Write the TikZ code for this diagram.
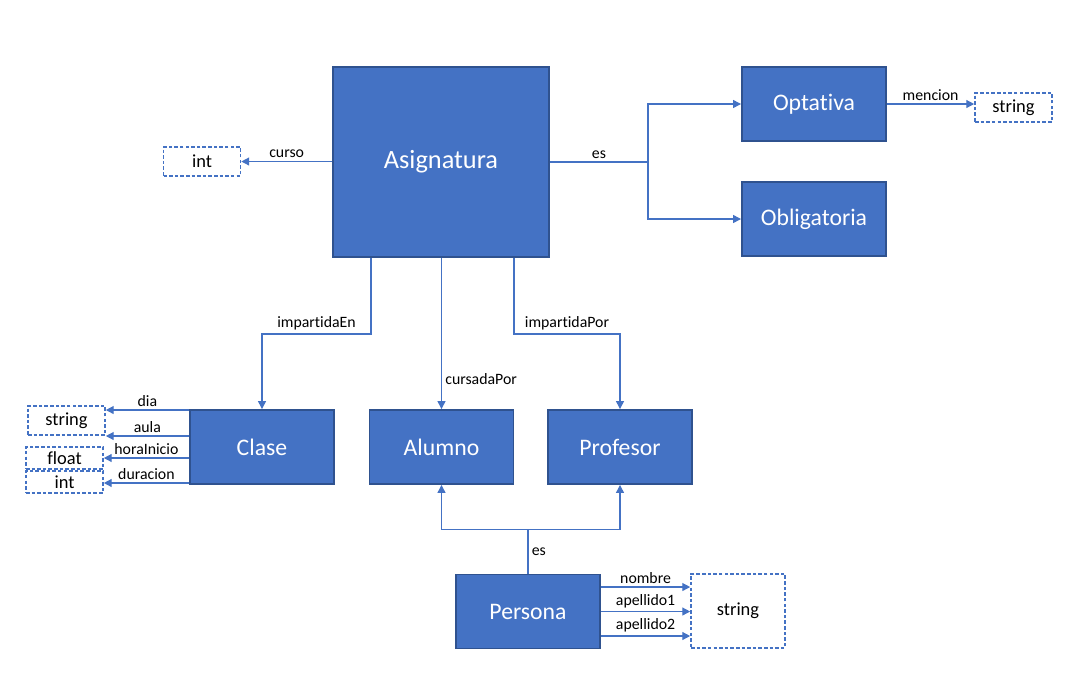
\documentclass[tikz,border=0pt]{standalone}
\usepackage{fontspec}
\setmainfont{Carlito}[Ligatures=NoCommon]
\usepackage{xcolor}
\usetikzlibrary{arrows.meta,positioning}
\definecolor{azul}{HTML}{4472C4}
\definecolor{azulosc}{HTML}{2F528F}

\begin{document}
\begin{tikzpicture}
  [x=0.02cm,y=-0.02cm,
   entidad/.style={rectangle,draw=azulosc,fill=azul,line width=1.1pt,text=white,font=\fontsize{13.5}{16}\selectfont,minimum width=2.88cm,minimum height=1.48cm,inner sep=0pt},
   tipo/.style={rectangle,draw=azul,dash pattern=on 2pt off 1.2pt,line width=0.9pt,fill=white,font=\fontsize{10.5}{12}\selectfont,minimum width=1.54cm,minimum height=0.58cm,inner sep=0pt},
   rel/.style={draw=azul,line width=0.75pt,-{Triangle[length=4.5pt,width=4.5pt]}},
   etiq/.style={font=\fontsize{9}{11}\selectfont,inner sep=1.8pt}]
\useasboundingbox (0,0) rectangle (1086,698);
% entidades
\node[entidad,minimum width=4.32cm,minimum height=3.8cm,font=\fontsize{15}{18}\selectfont] (asig) at (441,162) {Asignatura};
\node[entidad] (opt) at (814,104) {Optativa};
\node[entidad] (obl) at (814,219) {Obligatoria};
\node[entidad] (clase) at (262,447) {Clase};
\node[entidad] (alum) at (441.5,447) {Alumno};
\node[entidad] (prof) at (620,447) {Profesor};
\node[entidad] (pers) at (528,611.5) {Persona};
% tipos
\node[tipo] (intA) at (202,161.5) {int};
\node[tipo] (strO) at (1013.5,107.5) {string};
\node[tipo] (strC) at (66.5,420.5) {string};
\node[tipo,minimum height=0.44cm] (floC) at (64.5,458) {float};
\node[tipo,minimum height=0.44cm] (intC) at (64.5,482) {int};
\node[tipo,minimum width=1.88cm,minimum height=1.48cm] (strP) at (738,611) {string};
% relaciones
\draw[rel] (asig.west |- intA) -- node[etiq,above]{curso} (intA.east);
\draw[rel] (asig.east) -- node[etiq,above]{es} ++(98,0) |- (opt.west);
\draw[rel] (asig.east) ++(98,0) |- (obl.west);
\draw[rel] (opt.east) -- node[etiq,above]{mencion} (opt.east -| strO.west);
\draw[rel] ([xshift=-1.4cm]asig.south) -- ++(0,76) -| node[etiq,above,pos=0.25]{impartidaEn} (clase.north);
\draw[rel] (asig.south -| alum) -- node[etiq,right,pos=0.8]{cursadaPor} (alum.north);
\draw[rel] ([xshift=1.46cm]asig.south) -- ++(0,76) -| node[etiq,above,pos=0.25]{impartidaPor} (prof.north);
\draw[rel] (pers.north) -- node[etiq,right]{es} ++(0,-44) -| (alum.south);
\draw[rel] (pers.north) ++(0,-44) -| (prof.south);
% atributos
\draw[rel] ([yshift=0.49cm]pers.east) -- node[etiq,above]{nombre} ([yshift=0.49cm]pers.east -| strP.west);
\draw[rel] (pers.east) -- node[etiq,above]{apellido1} (pers.east -| strP.west);
\draw[rel] ([yshift=-0.49cm]pers.east) -- node[etiq,above]{apellido2} ([yshift=-0.49cm]pers.east -| strP.west);
\draw[rel] ([yshift=0.74cm]clase.west) -- node[etiq,above]{dia} ([yshift=0.74cm]clase.west -| strC.east);
\draw[rel] ([yshift=0.22cm]clase.west) -- node[etiq,above]{aula} ([yshift=0.22cm]clase.west -| strC.east);
\draw[rel] ([yshift=-0.22cm]clase.west) -- node[etiq,above]{horaInicio} ([yshift=-0.22cm]clase.west -| floC.east);
\draw[rel] ([yshift=-0.72cm]clase.west) -- node[etiq,above]{duracion} ([yshift=-0.72cm]clase.west -| intC.east);
\end{tikzpicture}
\end{document}
